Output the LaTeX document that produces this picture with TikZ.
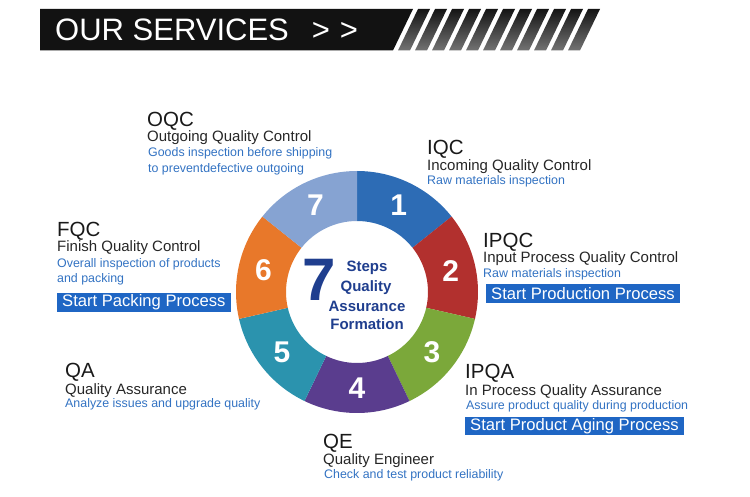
\documentclass[tikz,border=0pt]{standalone}
\usepackage{fontspec}
\setmainfont{Liberation Sans}
\setsansfont{Liberation Sans}
\usetikzlibrary{calc}
\definecolor{cnavy}{HTML}{1F3E8E}
\definecolor{cseg1}{HTML}{2D6CB5}
\definecolor{cseg2}{HTML}{B2302E}
\definecolor{cseg3}{HTML}{7BA83A}
\definecolor{cseg4}{HTML}{5A3D8E}
\definecolor{cseg5}{HTML}{2B93AE}
\definecolor{cseg6}{HTML}{E8782A}
\definecolor{cseg7}{HTML}{86A3D2}
\definecolor{cdesc}{HTML}{3272C2}
\definecolor{cbar}{HTML}{1F66C4}
\tikzset{
  every picture/.style={font=\sffamily},
  head/.style={anchor=base west, inner sep=0pt, text=black!90, font=\fontsize{20.5}{22}\selectfont},
  sub/.style={anchor=base west, inner sep=0pt, text=black!85, font=\fontsize{15}{17}\selectfont},
  desc/.style={anchor=base west, inner sep=0pt, text=cdesc, font=\fontsize{12.4}{14}\selectfont},
  box/.style={anchor=north west, fill=cbar, text=white, inner xsep=5pt, inner ysep=0pt, minimum height=19pt, font=\fontsize{16.6}{18}\selectfont},
  num/.style={text=white, font=\bfseries\fontsize{30}{30}\selectfont},
  mid/.style={anchor=base, inner sep=0pt, text=cnavy, font=\bfseries\fontsize{15}{18}\selectfont},
}

\begin{document}
\begin{tikzpicture}[x=1pt, y=1pt]
  \useasboundingbox (0,0) rectangle (750,-497);
  % header
  \fill[black!93] (40,-9) -- (413,-9) -- (393,-50.5) -- (40,-50.5) -- cycle;
  \foreach \k in {0,...,10}
    \shade[top color=black!92, bottom color=black!55] ({418+17*\k},-9) -- ++(12,0) -- ++(-20,-41.5) -- ++(-12,0) -- cycle;
  \node[anchor=base west, inner sep=0pt, text=white, font=\fontsize{31}{31}\selectfont] (hdr) at (55,-41) {OUR SERVICES\hspace{23pt}>\hspace{10pt}>};
  % ring
  \coordinate (c) at (357,-292);
  \foreach \i/\col in {1/cseg1, 2/cseg2, 3/cseg3, 4/cseg4, 5/cseg5, 6/cseg6, 7/cseg7}{
    \pgfmathsetmacro{\a}{90-(\i-1)*360/7}
    \pgfmathsetmacro{\b}{90-\i*360/7}
    \pgfmathsetmacro{\m}{(\a+\b)/2}
    \fill[\col] ($(c)+(\a:121)$) arc[start angle=\a, end angle=\b, radius=121] -- ($(c)+(\b:71)$) arc[start angle=\b, end angle=\a, radius=71] -- cycle;
    \node[num] (n\i) at ($(c)+(\m:96)$) {\i};
  }
  % centre
  \node[anchor=base, inner sep=0pt, text=cnavy, font=\bfseries\fontsize{60}{60}\selectfont] (seven) at (319,-300.5) {7};
  \node[mid] (steps) at (367,-272) {Steps};
  \node[mid] (quality) at (366,-291) {Quality};
  \node[mid] (assur) at (367,-311) {Assurance};
  \node[mid] (form) at (367,-329.5) {Formation};
  % OQC
  \node[head] (oqc) at (147,-126.5) {OQC};
  \node[sub] (oqc-name) at (147,-142) {Outgoing Quality Control};
  \node[desc] (oqc-d1) at (148,-157) {Goods inspection before shipping};
  \node[desc] (oqc-d2) at (148,-173) {to preventdefective outgoing};
  % IQC
  \node[head] (iqc) at (427,-155) {IQC};
  \node[sub] (iqc-name) at (427,-171) {Incoming Quality Control};
  \node[desc] (iqc-d1) at (427,-185) {Raw materials inspection};
  % IPQC
  \node[head] (ipqc) at (483,-247.5) {IPQC};
  \node[sub] (ipqc-name) at (483,-263) {Input Process Quality Control};
  \node[desc] (ipqc-d1) at (483,-278) {Raw materials inspection};
  \node[box] (ipqc-box) at (486,-284) {Start Production Process};
  % IPQA
  \node[head] (ipqa) at (465,-378) {IPQA};
  \node[sub] (ipqa-name) at (465,-395) {In Process Quality Assurance};
  \node[desc] (ipqa-d1) at (466,-409) {Assure product quality during production};
  \node[box, minimum height=17.5pt] (ipqa-box) at (465,-417) {Start Product Aging Process};
  % QE
  \node[head] (qe) at (323,-448) {QE};
  \node[sub] (qe-name) at (323,-464) {Quality Engineer};
  \node[desc] (qe-d1) at (324,-478) {Check and test product reliability};
  % QA
  \node[head] (qa) at (65,-377.5) {QA};
  \node[sub] (qa-name) at (65,-394) {Quality Assurance};
  \node[desc] (qa-d1) at (65,-407) {Analyze issues and upgrade quality};
  % FQC
  \node[head] (fqc) at (57,-236.5) {FQC};
  \node[sub] (fqc-name) at (57,-252) {Finish Quality Control};
  \node[desc] (fqc-d1) at (57,-268) {Overall inspection of products};
  \node[desc] (fqc-d2) at (57,-283) {and packing};
  \node[box] (fqc-box) at (57,-293) {Start Packing Process};
\end{tikzpicture}
\end{document}
